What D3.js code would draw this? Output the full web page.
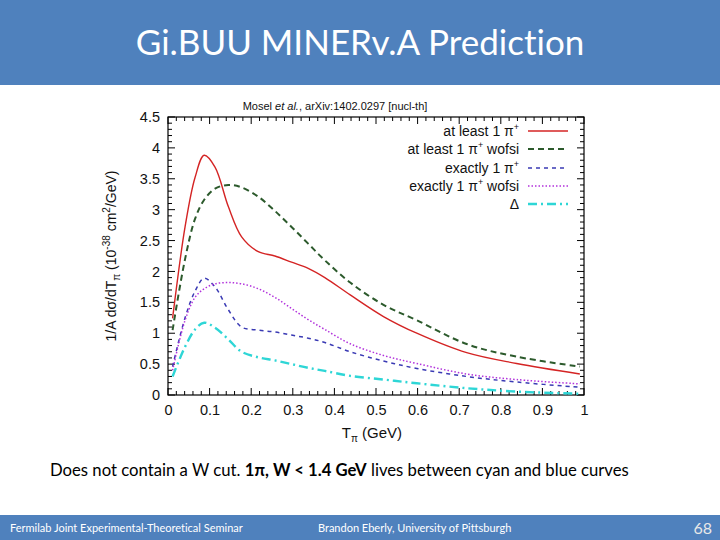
<!DOCTYPE html>
<meta charset="utf-8">
<head>
<title>GiBUU MINERvA Prediction</title>
<script src="https://d3js.org/d3.v7.min.js"></script>
<style>
  body { margin: 0; background: #fff; }
  svg { display: block; }
  .plot text { font-family: 'Liberation Sans', Arial, sans-serif; fill: #111; }
  .axis text { font-size: 14.5px; }
  .slide { font-family: Lato, 'Open Sans', sans-serif; font-variant-ligatures: none; }
</style>
</head>
<body>
<svg width="720" height="540"></svg>
<script>
// T_pi values (GeV) shared by all curves
const tpi = [0.011, 0.041, 0.065, 0.087, 0.113, 0.145, 0.177, 0.217, 0.257, 0.297, 0.337, 0.377, 0.438, 0.518, 0.598, 0.718, 0.838, 0.99];

const atLeast = [1.24, 2.72, 3.52, 3.88, 3.69, 3.05, 2.56, 2.32, 2.25, 2.15, 2.05, 1.90, 1.62, 1.27, 1.00, 0.685, 0.51, 0.34];
const atLeastWofsi = [1.05, 2.20, 2.85, 3.16, 3.34, 3.40, 3.36, 3.21, 2.98, 2.72, 2.45, 2.18, 1.82, 1.46, 1.21, 0.825, 0.62, 0.46];
const exactly = [0.46, 1.25, 1.68, 1.89, 1.75, 1.38, 1.10, 1.05, 1.02, 0.97, 0.92, 0.85, 0.70, 0.55, 0.43, 0.30, 0.21, 0.125];
const exactlyWofsi = [0.40, 1.21, 1.58, 1.72, 1.80, 1.82, 1.80, 1.72, 1.58, 1.40, 1.22, 1.06, 0.83, 0.64, 0.51, 0.34, 0.25, 0.18];
const delta = [0.30, 0.78, 1.06, 1.17, 1.09, 0.90, 0.70, 0.61, 0.56, 0.50, 0.44, 0.39, 0.31, 0.25, 0.19, 0.11, 0.055, 0.02];

const xTicks = [0, 0.1, 0.2, 0.3, 0.4, 0.5, 0.6, 0.7, 0.8, 0.9, 1];
const yTicks = [0, 0.5, 1, 1.5, 2, 2.5, 3, 3.5, 4, 4.5];

const series = [
  {name: 'at least 1 π', sup: '+', tail: '', values: atLeast, color: '#d42424', width: 1.4, dash: null},
  {name: 'at least 1 π', sup: '+', tail: ' wofsi', values: atLeastWofsi, color: '#2c5a2c', width: 2, dash: '6,4'},
  {name: 'exactly 1 π', sup: '+', tail: '', values: exactly, color: '#3a3ab4', width: 1.5, dash: '4,4'},
  {name: 'exactly 1 π', sup: '+', tail: ' wofsi', values: exactlyWofsi, color: '#b232dc', width: 1.5, dash: '1.5,2'},
  {name: 'Δ', sup: '', tail: '', values: delta, color: '#2ed6d6', width: 2.4, dash: '9,4,2,4'}
];

const svg = d3.select('svg');
const blue = '#4f81bd';

// slide frame
svg.append('rect').attr('x', 0).attr('y', 0).attr('width', 720).attr('height', 85).attr('fill', blue);
svg.append('text').attr('class', 'slide')
  .attr('x', 360).attr('y', 55).attr('text-anchor', 'middle')
  .attr('font-size', 35).attr('fill', '#fff')
  .text('Gi.BUU MINERv.A Prediction');

svg.append('rect').attr('x', 0).attr('y', 515).attr('width', 720).attr('height', 25).attr('fill', blue);
svg.append('text').attr('class', 'slide').attr('x', 10).attr('y', 532)
  .attr('font-size', 11).attr('fill', '#fff').text('Fermilab Joint Experimental-Theoretical Seminar');
svg.append('text').attr('class', 'slide').attr('x', 318).attr('y', 532)
  .attr('font-size', 11).attr('fill', '#fff').text('Brandon Eberly, University of Pittsburgh');
svg.append('text').attr('class', 'slide').attr('x', 712).attr('y', 534).attr('text-anchor', 'end')
  .attr('font-size', 16).attr('fill', '#e8e8e8').text('68');

const note = svg.append('text').attr('class', 'slide').attr('x', 50).attr('y', 476)
  .attr('font-size', 16.7).attr('fill', '#000');
note.append('tspan').text('Does not contain a W cut.  ');
note.append('tspan').attr('font-weight', 'bold').text('1π, W < 1.4 GeV');
note.append('tspan').text(' lives between cyan and blue curves');

// plot
const pLeft = 168, pRight = 584, pTop = 117, pBottom = 395;
const x = d3.scaleLinear().domain([0, 1]).range([pLeft, pRight]);
const y = d3.scaleLinear().domain([0, 4.5]).range([pBottom, pTop]);

const plot = svg.append('g').attr('class', 'plot');

const cite = plot.append('text').attr('x', 335).attr('y', 110).attr('text-anchor', 'middle').attr('font-size', 11);
cite.append('tspan').text('Mosel ');
cite.append('tspan').attr('font-style', 'italic').text('et al.');
cite.append('tspan').text(', arXiv:1402.0297 [nucl-th]');

const xMinor = d3.range(0, 1.0001, 0.02);
const yMinor = d3.range(0, 4.5001, 0.1);

const tickG = plot.append('g').attr('stroke', '#000').attr('stroke-width', 1);
xMinor.forEach((v, i) => {
  const len = i % 5 === 0 ? 7 : 4;
  tickG.append('line').attr('x1', x(v)).attr('x2', x(v)).attr('y1', pBottom).attr('y2', pBottom - len);
  tickG.append('line').attr('x1', x(v)).attr('x2', x(v)).attr('y1', pTop).attr('y2', pTop + len);
});
yMinor.forEach((v, i) => {
  const len = i % 5 === 0 ? 7 : 4;
  tickG.append('line').attr('y1', y(v)).attr('y2', y(v)).attr('x1', pLeft).attr('x2', pLeft + len);
  tickG.append('line').attr('y1', y(v)).attr('y2', y(v)).attr('x1', pRight).attr('x2', pRight - len);
});

plot.append('g').attr('class', 'axis')
  .attr('transform', `translate(0,${pBottom})`)
  .call(d3.axisBottom(x).tickValues(xTicks).tickSize(0).tickPadding(10).tickFormat(d3.format('')))
  .call(g => g.select('.domain').remove());
plot.append('g').attr('class', 'axis')
  .attr('transform', `translate(${pLeft},0)`)
  .call(d3.axisLeft(y).tickValues(yTicks).tickSize(0).tickPadding(8).tickFormat(d3.format('')))
  .call(g => g.select('.domain').remove());

plot.append('rect').attr('x', pLeft).attr('y', pTop).attr('width', pRight - pLeft).attr('height', pBottom - pTop)
  .attr('fill', 'none').attr('stroke', '#000').attr('stroke-width', 1.2);

// axis labels
const xl = plot.append('text').attr('x', 372).attr('y', 438).attr('text-anchor', 'middle').attr('font-size', 15);
xl.append('tspan').text('T');
xl.append('tspan').attr('font-size', 10).attr('dy', 4).text('π');
xl.append('tspan').attr('dy', -4).text(' (GeV)');

const yl = plot.append('text').attr('transform', 'translate(116,256) rotate(-90)')
  .attr('text-anchor', 'middle').attr('font-size', 14);
yl.append('tspan').text('1/A dσ/dT');
yl.append('tspan').attr('font-size', 10).attr('dy', 4).text('π');
yl.append('tspan').attr('dy', -4).text(' (10');
yl.append('tspan').attr('font-size', 10).attr('dy', -6).text('-38');
yl.append('tspan').attr('dy', 6).text(' cm');
yl.append('tspan').attr('font-size', 10).attr('dy', -6).text('2');
yl.append('tspan').attr('dy', 6).text('/GeV)');

// curves
const line = d3.line().x(d => x(d[0])).y(d => y(d[1])).curve(d3.curveCatmullRom.alpha(0.5));
series.forEach(s => {
  plot.append('path')
    .datum(tpi.map((t, i) => [t, s.values[i]]))
    .attr('fill', 'none').attr('stroke', s.color).attr('stroke-width', s.width)
    .attr('stroke-dasharray', s.dash).attr('d', line);
});

// legend
const legY = [131, 149, 168, 186, 204];
series.forEach((s, i) => {
  const t = plot.append('text').attr('x', 519).attr('y', legY[i] + 5).attr('text-anchor', 'end').attr('font-size', 14);
  t.append('tspan').text(s.name);
  if (s.sup) t.append('tspan').attr('font-size', 9).attr('dy', -6).text(s.sup);
  if (s.tail) t.append('tspan').attr('dy', 6).text(s.tail);
  plot.append('line').attr('x1', 528).attr('x2', 568).attr('y1', legY[i]).attr('y2', legY[i])
    .attr('stroke', s.color).attr('stroke-width', s.width).attr('stroke-dasharray', s.dash);
});
</script>
</body>
